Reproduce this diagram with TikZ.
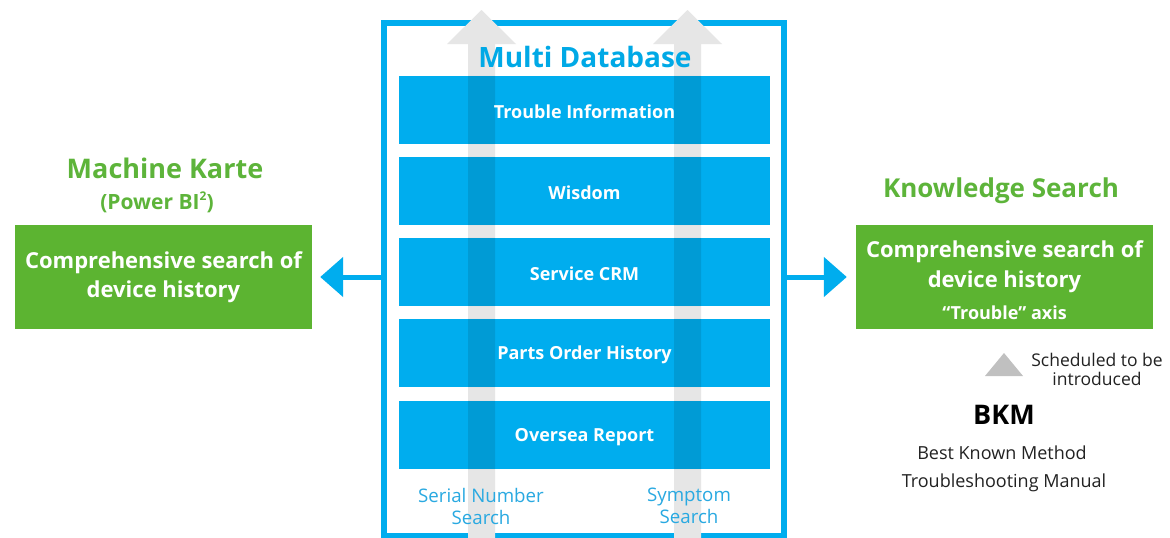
\documentclass[tikz,border=0pt]{standalone}
\usepackage{fontspec}
\setmainfont{Open Sans}
\usetikzlibrary{arrows.meta}
\definecolor{dbblue}{HTML}{00ADEE}
\definecolor{dbtitle}{HTML}{00A9E6}
\definecolor{srchblue}{HTML}{29A9E1}
\definecolor{kgreen}{HTML}{5CB431}
\definecolor{ktitle}{HTML}{5DB43A}
\definecolor{arrowgray}{HTML}{E6E6E6}
\definecolor{trigray}{HTML}{C0C0C0}
\definecolor{darktext}{HTML}{222222}
\newcommand{\fs}[2]{\fontsize{#1}{#2}\selectfont}
\begin{document}
\begin{tikzpicture}[x=1pt,y=-1pt,
  dbbox/.style={fill=dbblue,draw=none,minimum width=371pt,minimum height=68pt,inner sep=0pt},
  dblabel/.style={text=white,font=\fs{18}{22}\bfseries,inner sep=0pt,yshift=-2pt},
  greenbox/.style={fill=kgreen,draw=none,minimum width=297pt,minimum height=104pt,inner sep=0pt,text=white,align=center},
  gtitle/.style={text=ktitle,font=\fs{26}{30}\bfseries,inner sep=0pt},
  srch/.style={text=srchblue,font=\fs{18.7}{22}\selectfont,align=center,inner sep=0pt},
  bluearrow/.style={draw=dbblue,line width=5pt,-{Triangle[length=23pt,width=39pt]}},
  grayarrow/.style={fill=arrowgray,draw=none},
  note/.style={text=darktext,inner sep=0pt,align=center}
]
\useasboundingbox (0,0) rectangle (1170,538);
\fill[white] (0,0) rectangle (1170,538);

% blue connectors (start under the frame)
\node[draw=none,minimum width=400pt,minimum height=513pt,inner sep=0pt] (frame) at (584,279.5) {};
\node[greenbox,font=\fs{22}{29}\bfseries] (lbox) at (163.5,277) {Comprehensive search of\\device history};
\node[greenbox] (rbox) at (1004.5,277) {};
\node[text=white,align=center,inner sep=0pt,font=\fs{22}{30}\bfseries] (rtext) at ([yshift=-3pt]rbox.center) {Comprehensive search of\\device history\\[2pt]{\fs{18}{22}\bfseries “Trouble” axis}};
\draw[bluearrow,shorten >=8pt] (frame.west |- lbox.east) -- (lbox.east);
\draw[bluearrow,shorten >=9pt] (frame.east |- rbox.west) -- (rbox.west);

% frame
\draw[dbblue,line width=6pt] (frame.north west) rectangle (frame.south east);

% gray arrows
\fill[grayarrow] (468,545) -- (468,44) -- (447,44) -- (481.5,10) -- (516,44) -- (495,44) -- (495,545) -- cycle;
\fill[grayarrow] (674,545) -- (674,44) -- (653,44) -- (687.5,10) -- (722,44) -- (701,44) -- (701,545) -- cycle;

% boxes
\node[dbbox] (b1) at (584.5,110) {};
\node[dbbox] (b2) at (584.5,191) {};
\node[dbbox] (b3) at (584.5,272) {};
\node[dbbox] (b4) at (584.5,353) {};
\node[dbbox] (b5) at (584.5,435) {};

% overlay of arrow shafts on boxes
\begin{scope}
\clip (b1.north west) rectangle (b1.south east)
      (b2.north west) rectangle (b2.south east)
      (b3.north west) rectangle (b3.south east)
      (b4.north west) rectangle (b4.south east)
      (b5.north west) rectangle (b5.south east);
\fill[black,opacity=0.1] (468,0) rectangle (495,538) (674,0) rectangle (701,538);
\end{scope}

% box labels
\node[dblabel] (t1) at (b1) {Trouble Information};
\node[dblabel] (t2) at (b2) {Wisdom};
\node[dblabel] (t3) at (b3) {Service CRM};
\node[dblabel] (t4) at (b4) {Parts Order History};
\node[dblabel] (t5) at (b5) {Oversea Report};

\node[text=dbtitle,font=\fs{28}{32}\bfseries,inner sep=0pt] (title) at (585,57) {Multi Database};

\node[srch] (sn) at (481,506) {Serial Number\\Search};
\node[srch] (sy) at (689,506) {Symptom\\Search};

% titles
\node[gtitle,font=\fs{27}{30}\bfseries] (mk) at (165,168) {Machine Karte};
\node[text=ktitle,font=\fs{21}{24}\bfseries,inner sep=0pt] (pbi) at (157,202) {(Power BI\raisebox{0.42em}{\fs{12}{12}2})};
\node[gtitle] (ks) at (1001,191) {Knowledge Search};

% scheduled note
\fill[trigray] (985,376) -- (1004,353) -- (1023,376) -- cycle;
\node[note,font=\fs{17.5}{19}\selectfont] (sched) at (1097,369) {Scheduled to be\\introduced};
\node[note,text=black,font=\fs{27}{30}\bfseries] (bkm) at (1004,415) {BKM};
\node[note,font=\fs{18}{20}\selectfont] (bkm1) at (1002,453) {Best Known Method};
\node[note,font=\fs{18}{20}\selectfont] (bkm2) at (1004,483) {Troubleshooting Manual};
\end{tikzpicture}
\end{document}
